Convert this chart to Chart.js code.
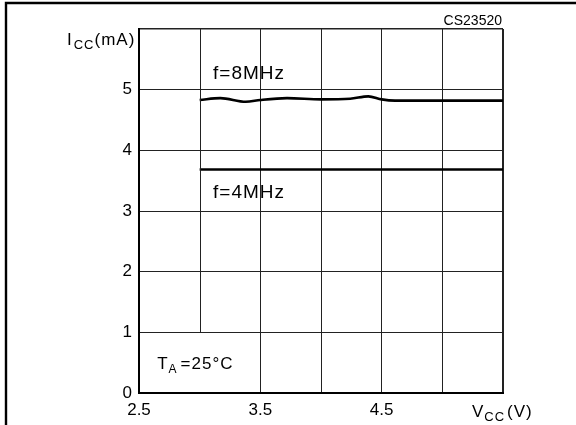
<!DOCTYPE html>
<html>
<head>
<meta charset="utf-8">
<script src="https://cdn.jsdelivr.net/npm/chart.js@4.4.1/dist/chart.umd.min.js"></script>
<style>
  html, body { margin: 0; padding: 0; background: #fff; }
  #chart { display: block; }
</style>
</head>
<body>
<canvas id="chart" width="576" height="425"></canvas>
<script>
// supply voltage (V) and supply current (mA)
const vcc8MHz = [3.0, 3.17, 3.38, 3.5, 3.72, 4.0, 4.24, 4.39, 4.5, 4.61, 5.0, 5.5];
const icc8MHz = [4.83, 4.86, 4.80, 4.83, 4.86, 4.84, 4.85, 4.89, 4.84, 4.82, 4.82, 4.82];
const vcc4MHz = [3.0, 5.5];
const icc4MHz = [3.685, 3.685];

const xLabelled = [2.5, 3.5, 4.5];   // x ticks that carry a number
const yLabelled = [0, 1, 2, 3, 4, 5];

const FONT = '"Liberation Sans", Arial, sans-serif';

// frame, broken grid line, and the sub-scripted labels
const extras = {
  id: 'extras',
  beforeDraw(chart) {
    const ctx = chart.ctx;
    ctx.save();
    ctx.fillStyle = '#fff';
    ctx.fillRect(0, 0, chart.width, chart.height);
    ctx.strokeStyle = '#000';
    ctx.lineWidth = 2.4;
    ctx.beginPath();
    ctx.moveTo(6, chart.height);
    ctx.lineTo(6, 3);
    ctx.lineTo(chart.width, 3);
    ctx.stroke();
    ctx.restore();
  },
  afterDatasetsDraw(chart) {
    const ctx = chart.ctx;
    const x = chart.scales.x, y = chart.scales.y;
    ctx.save();
    // the 3.0 V grid line stops at 1 mA
    ctx.strokeStyle = '#222';
    ctx.lineWidth = 1;
    const gx = Math.round(x.getPixelForValue(3.0)) + 0.5;
    ctx.beginPath();
    ctx.moveTo(gx, y.getPixelForValue(6));
    ctx.lineTo(gx, y.getPixelForValue(1));
    ctx.stroke();

    ctx.fillStyle = '#000';
    ctx.textBaseline = 'alphabetic';
    ctx.letterSpacing = '1px';

    function sub(parts, px, py) {
      let cx = px;
      parts.forEach(p => {
        ctx.font = p.size + 'px ' + FONT;
        ctx.fillText(p.t, cx, py + (p.dy || 0));
        cx += ctx.measureText(p.t).width + (p.gap || 0);
      });
    }

    // y axis title
    sub([{t: 'I', size: 17, gap: 1}, {t: 'CC', size: 13, dy: 4, gap: 0}, {t: '(mA)', size: 17}],
        x.left - 72, y.getPixelForValue(6) + 16);
    // x axis title at the 5.5 V position
    const vx = x.getPixelForValue(5.5);
    sub([{t: 'V', size: 17, gap: 0}, {t: 'CC', size: 13, dy: 4, gap: 2}, {t: '(V)', size: 17}],
        vx - 31, y.getPixelForValue(0) + 24);
    // ambient temperature note
    sub([{t: 'T', size: 17, gap: 0}, {t: 'A', size: 12, dy: 4, gap: 3}, {t: '=25°C', size: 17}],
        x.getPixelForValue(2.65), y.getPixelForValue(0.49) + 6);

    ctx.letterSpacing = '1px';
    ctx.font = '19px ' + FONT;
    ctx.fillText('f=8MHz', x.getPixelForValue(3.11), y.getPixelForValue(5.29) + 7);
    ctx.fillText('f=4MHz', x.getPixelForValue(3.11), y.getPixelForValue(3.33) + 7);

    ctx.letterSpacing = '0px';
    ctx.font = '14px ' + FONT;
    ctx.textAlign = 'right';
    ctx.fillText('CS23520', x.right - 1, y.top - 4);
    ctx.restore();
  }
};

new Chart(document.getElementById('chart'), {
  type: 'scatter',
  data: {
    datasets: [
      {
        label: 'f=8MHz',
        data: vcc8MHz.map((v, i) => ({x: v, y: icc8MHz[i]})),
        showLine: true,
        borderColor: '#000',
        borderWidth: 2.6,
        pointRadius: 0,
        cubicInterpolationMode: 'monotone'
      },
      {
        label: 'f=4MHz',
        data: vcc4MHz.map((v, i) => ({x: v, y: icc4MHz[i]})),
        showLine: true,
        borderColor: '#000',
        borderWidth: 2.6,
        pointRadius: 0
      }
    ]
  },
  options: {
    responsive: false,
    animation: false,
    devicePixelRatio: 1,
    layout: { padding: { top: 29, right: 73, left: 0, bottom: 0 } },
    plugins: { legend: { display: false }, tooltip: { enabled: false } },
    scales: {
      x: {
        type: 'linear',
        min: 2.5, max: 5.5,
        afterFit: s => { s.height = 32; },
        afterBuildTicks: s => { s.ticks = [2.5, 3, 3.5, 4, 4.5, 5, 5.5].map(v => ({value: v})); },
        border: { display: true, color: '#000', width: 2 },
        grid: {
          drawTicks: false,
          color: c => c.tick && c.tick.value === 3 ? 'rgba(0,0,0,0)' : '#222',
          lineWidth: c => c.tick && c.tick.value === 5.5 ? 2 : 1
        },
        ticks: {
          padding: 7,
          color: '#000',
          maxRotation: 0,
          autoSkip: false,
          font: { family: FONT, size: 17 },
          callback: v => xLabelled.includes(v) ? String(v) : ''
        }
      },
      y: {
        type: 'linear',
        min: 0, max: 6,
        afterFit: s => { s.width = 139; },
        border: { display: true, color: '#000', width: 2 },
        grid: {
          drawTicks: false,
          color: '#222',
          lineWidth: c => c.tick && c.tick.value === 6 ? 1.5 : 1
        },
        ticks: {
          stepSize: 1,
          padding: 7,
          color: '#000',
          font: { family: FONT, size: 17 },
          callback: v => yLabelled.includes(v) ? String(v) : ''
        }
      }
    }
  },
  plugins: [extras]
});
</script>
</body>
</html>
